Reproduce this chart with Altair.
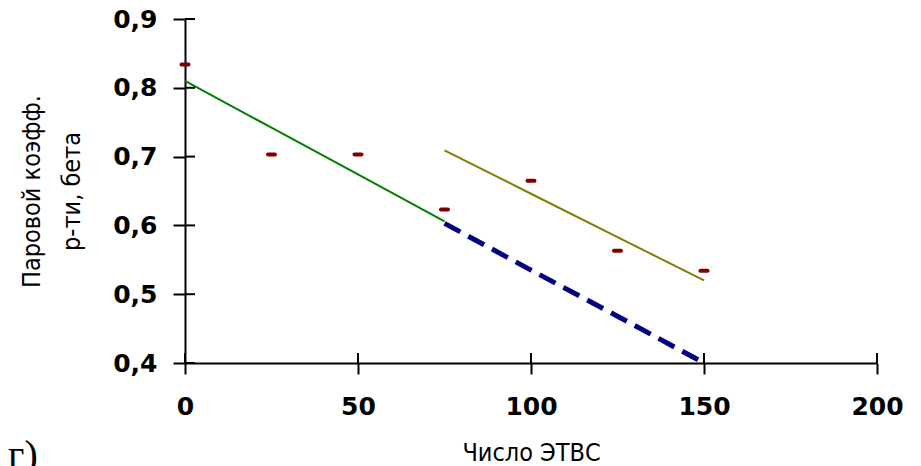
import altair as alt
import pandas as pd

# ---- data ----
obs_x = [0, 25, 50, 75, 100, 125, 150]
obs_y = [0.834, 0.703, 0.703, 0.623, 0.665, 0.563, 0.534]

green_x = [0, 25, 50, 75]
green_y = [0.810, 0.742, 0.674, 0.606]

olive_x = [75, 100, 125, 150]
olive_y = [0.709, 0.646, 0.583, 0.520]

blue_x = [75, 100, 125, 150]
blue_y = [0.603, 0.535, 0.468, 0.400]

x_ticks = [0, 50, 100, 150, 200]
y_ticks = [0.4, 0.5, 0.6, 0.7, 0.8, 0.9]

x_title = "Число ЭТВС"
y_title = ["Паровой коэфф.", "р-ти, бета"]
panel_label = "г)"

W, H = 692, 344

obs = pd.DataFrame({"x": obs_x, "y": obs_y})
green = pd.DataFrame({"x": green_x, "y": green_y})
olive = pd.DataFrame({"x": olive_x, "y": olive_y})
blue = pd.DataFrame({"x": blue_x, "y": blue_y})
xt = pd.DataFrame({"x": x_ticks})
yt = pd.DataFrame({"y": y_ticks})

LABEL_FONT = "DejaVu Sans"
TITLE_FONT = "Liberation Sans Narrow, DejaVu Sans Condensed, DejaVu Sans"

xscale = alt.Scale(domain=[0, 200], nice=False, zero=False)
yscale = alt.Scale(domain=[0.4, 0.9], nice=False, zero=False)

xaxis = alt.Axis(
    values=x_ticks, format="d", grid=False,
    domainColor="black", domainWidth=2,
    tickColor="black", tickWidth=2, tickSize=11,
    labelFont=LABEL_FONT, labelFontWeight="bold", labelFontSize=25, labelColor="black",
    labelPadding=20, labelFlush=False, labelOverlap=False,
    title=x_title, titleFont=TITLE_FONT, titleFontWeight="normal", titleFontSize=25,
    titleColor="black", titlePadding=21,
)
yaxis = alt.Axis(
    values=y_ticks, grid=False,
    labelExpr="replace(format(datum.value, '.1f'), '.', ',')",
    domainColor="black", domainWidth=2,
    tickColor="black", tickWidth=2, tickSize=12,
    labelFont=LABEL_FONT, labelFontWeight="bold", labelFontSize=25, labelColor="black",
    labelPadding=16, labelFlush=False, labelOverlap=False,
    title=y_title, titleFont=TITLE_FONT, titleFontWeight="normal", titleFontSize=25,
    titleColor="black", titleLineHeight=40, titlePadding=28,
)

X = alt.X("x:Q", scale=xscale, axis=xaxis)
Y = alt.Y("y:Q", scale=yscale, axis=yaxis)

green_line = alt.Chart(green).mark_line(color="#008000", strokeWidth=2).encode(x=X, y=Y)
olive_line = alt.Chart(olive).mark_line(color="#808000", strokeWidth=2).encode(x=X, y=Y)
blue_line = alt.Chart(blue).mark_line(
    color="#000080", strokeWidth=5, strokeDash=[18, 9]
).encode(x=X, y=Y)

markers = alt.Chart(obs).mark_tick(
    orient="horizontal", color="#800000", size=11, thickness=4, cornerRadius=2, opacity=1
).encode(x=X, y=Y)

# inward halves of the crossing ticks
x_in = alt.Chart(xt).mark_rule(color="black", strokeWidth=2).encode(
    x=alt.X("x:Q", scale=xscale), y=alt.value(H), y2=alt.value(H - 10)
)
y_in = alt.Chart(yt).mark_rule(color="black", strokeWidth=2).encode(
    y=alt.Y("y:Q", scale=yscale), x=alt.value(0), x2=alt.value(10)
)

label = alt.Chart(pd.DataFrame({"t": [panel_label]})).mark_text(
    font="Liberation Serif", fontSize=40, align="left", baseline="alphabetic", color="black"
).encode(text="t:N", x=alt.value(-177), y=alt.value(449))

chart = alt.layer(
    green_line, olive_line, blue_line, markers, x_in, y_in, label
).properties(
    width=W, height=H,
    autosize=alt.AutoSizeParams(type="none"),
    padding={"left": 177, "top": 11, "right": 36, "bottom": 103},
    background="white",
).configure_view(stroke=None)

chart.save("out.html", embed_options={"renderer": "svg", "actions": False})
